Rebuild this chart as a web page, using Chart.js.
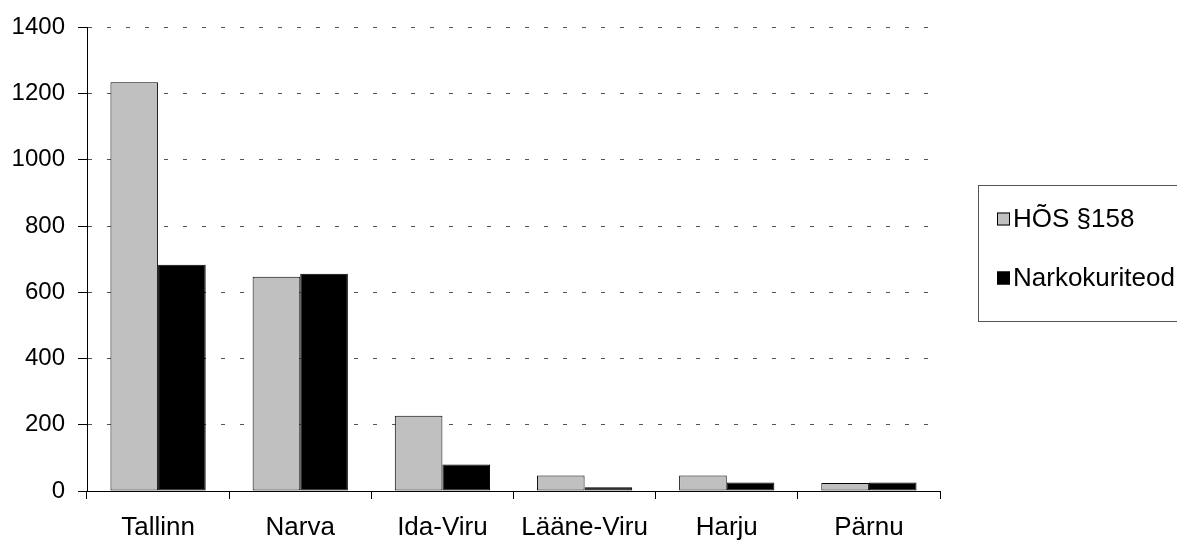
<!DOCTYPE html>
<html>
<head>
<meta charset="utf-8">
<script src="https://cdn.jsdelivr.net/npm/chart.js@4.4.1/dist/chart.umd.min.js"></script>
<style>
  html, body { margin: 0; padding: 0; background: #fff; }
  #wrap { width: 1177px; height: 541px; position: relative; }
</style>
</head>
<body>
<div id="wrap"><canvas id="chart"></canvas></div>
<script>
const regions = ['Tallinn', 'Narva', 'Ida-Viru', 'Lääne-Viru', 'Harju', 'Pärnu'];
const hosValues = [1234, 647, 227, 47, 47, 24];
const narkoValues = [683, 656, 80, 11, 26, 26];
const seriesNames = ['HÕS §158', 'Narkokuriteod'];
const yTicks = [0, 200, 400, 600, 800, 1000, 1200, 1400];

const FONT = 'Liberation Sans, Arial, sans-serif';

// legend box drawn by hand, right side, clipped like the original
const boxLegend = {
  id: 'boxLegend',
  afterDraw(chart) {
    const ctx = chart.ctx;
    ctx.save();
    ctx.strokeStyle = '#555';
    ctx.lineWidth = 1;
    ctx.strokeRect(978.5, 185.5, 240, 136);
    ctx.font = '26px ' + FONT;
    ctx.textBaseline = 'middle';
    const rows = [218.5, 277.5];
    chart.data.datasets.forEach((ds, i) => {
      const y = rows[i];
      ctx.fillStyle = ds.backgroundColor;
      ctx.fillRect(997, y - 6, 13, 13);
      ctx.strokeStyle = '#000';
      ctx.strokeRect(997.5, y - 5.5, 12, 12);
      ctx.fillStyle = '#000';
      ctx.fillText(ds.label, 1013, y + 1);
    });
    ctx.restore();
  }
};

new Chart(document.getElementById('chart'), {
  type: 'bar',
  data: {
    labels: regions,
    datasets: [
      { label: seriesNames[0], data: hosValues, backgroundColor: '#c0c0c0', borderColor: '#000', borderWidth: 1, borderSkipped: false },
      { label: seriesNames[1], data: narkoValues, backgroundColor: '#000000', borderColor: '#000', borderWidth: 1, borderSkipped: false }
    ]
  },
  options: {
    responsive: true,
    maintainAspectRatio: false,
    animation: false,
    layout: { padding: { left: 0, top: 24, right: 237, bottom: 0 } },
    plugins: {
      legend: { display: false },
      tooltip: { enabled: false }
    },
    datasets: { bar: { categoryPercentage: 0.67, barPercentage: 1 } },
    scales: {
      x: {
        grid: { display: true, drawOnChartArea: false, offset: true, tickLength: 8, color: '#000' },
        border: { display: true, color: '#000', width: 1 },
        ticks: { color: '#000', font: { family: FONT, size: 26 }, padding: 13, maxRotation: 0 },
        afterFit: (s) => { s.height = 50; }
      },
      y: {
        min: 0,
        max: 1400,
        afterBuildTicks: (s) => { s.ticks = yTicks.map(v => ({ value: v })); },
        grid: { color: '#555', tickLength: 9, tickColor: '#000', tickBorderDash: [] },
        border: { display: true, color: '#000', width: 1, dash: [4, 15] },
        ticks: { color: '#000', font: { family: FONT, size: 24 }, padding: 13, callback: (v) => String(v) },
        afterFit: (s) => { s.width = 87; }
      }
    }
  },
  plugins: [boxLegend]
});
</script>
</body>
</html>
